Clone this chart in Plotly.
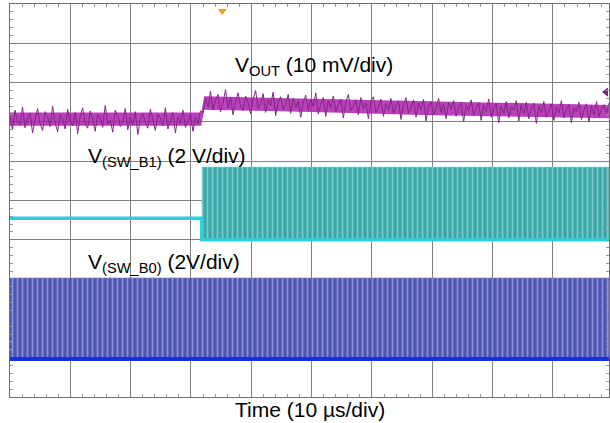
import numpy as np
import plotly.graph_objects as go

# scope screen: 10 x 10 divisions, x in divisions of 10 us, y in divisions
x_span = 9.93

# V_OUT (10 mV/div) samples in divisions from the bottom
vout = [7.15, 6.80, 7.30, 7.00, 6.92, 7.38, 6.85, 7.10, 7.22, 6.72, 7.05, 7.34, 6.95, 6.78, 7.26, 7.12, 6.88, 7.40, 6.98, 6.75,
        7.18, 7.08, 6.82, 7.32, 7.02, 6.90, 7.24, 6.70, 7.14, 7.36, 6.96, 6.84, 7.28, 7.06, 6.76, 7.20, 7.10, 6.86, 7.42, 6.94,
        7.04, 6.74, 7.30, 7.16, 6.88, 7.00, 7.34, 6.80, 7.12, 6.92, 7.26, 6.68, 7.08, 7.22, 6.98, 6.84, 7.32, 7.04, 6.78, 7.18,
        7.10, 6.90, 7.36, 6.82, 7.02, 7.24, 6.72, 7.14, 6.96, 7.30, 6.86, 7.06, 7.20, 6.76, 7.12, 6.94, 7.28,
        7.22, 7.60, 7.38, 7.78, 7.30, 7.55, 7.70, 7.25, 7.48, 7.82, 7.35, 7.62, 7.18, 7.52, 7.74, 7.40, 7.28, 7.66, 7.50, 7.20,
        7.58, 7.80, 7.34, 7.46, 7.72, 7.24, 7.56, 7.42, 7.76, 7.16, 7.50, 7.64, 7.32, 7.44, 7.70, 7.22, 7.60, 7.36, 7.52, 7.12,
        7.48, 7.68, 7.30, 7.56, 7.40, 7.74, 7.20, 7.46, 7.62, 7.14, 7.54, 7.36, 7.66, 7.26, 7.44, 7.58, 7.10, 7.50, 7.70, 7.28,
        7.40, 7.56, 7.18, 7.62, 7.34, 7.48, 7.08, 7.52, 7.64, 7.24, 7.38, 7.58, 7.14, 7.46, 7.30, 7.60, 7.20, 7.42, 7.54, 7.06,
        7.44, 7.62, 7.22, 7.36, 7.56, 7.12, 7.48, 7.30, 7.58, 7.02, 7.40, 7.52, 7.18, 7.34, 7.60, 7.24, 7.46, 7.08, 7.50, 7.32,
        7.54, 7.14, 7.38, 7.48, 7.00, 7.44, 7.28, 7.56, 7.16, 7.36, 7.50, 7.04, 7.42, 7.26, 7.58, 7.12, 7.34, 7.46, 6.98, 7.40,
        7.22, 7.52, 7.10, 7.38, 7.30, 7.54, 7.02, 7.44, 7.20, 7.50, 7.08, 7.32, 7.48, 6.96, 7.40, 7.24, 7.52, 7.12, 7.30, 7.46,
        7.04, 7.38, 7.22, 7.54, 7.10, 7.34, 7.44, 6.98, 7.36, 7.26, 7.50, 7.06, 7.30, 7.46, 7.00, 7.42, 7.18, 7.52, 7.14, 7.32,
        7.44, 7.20, 7.48]
vout_env_t = [0, 3.17, 3.22, 5.0, 7.0, x_span]
vout_env_hi = [7.24, 7.24, 7.65, 7.59, 7.51, 7.43]
vout_env_lo = [6.90, 6.90, 7.31, 7.25, 7.17, 7.09]

# V(SW_B1) (2 V/div): idle level, then switching between low and high
sw_b1_start = 3.18
sw_b1_idle = 4.55
sw_b1_low = 4.00
sw_b1_high = 5.85

# V(SW_B0) (2 V/div): switching over the whole record
sw_b0_low = 0.97
sw_b0_high = 3.03

# trigger marker (top) and channel-1 ground marker (right edge)
trig_t = [3.52]
trig_y = [9.82]
gnd_t = [9.88]
gnd_y = [7.76]

vout_t = np.linspace(0, x_span, len(vout))

fig = go.Figure()

# V(SW_B0)
fig.add_trace(go.Scatter(
    x=[0, x_span, x_span, 0], y=[sw_b0_high, sw_b0_high, sw_b0_low, sw_b0_low],
    fill='toself', mode='lines', line=dict(width=0.6, color='#7f86c8'),
    fillcolor='#5058b0',
    fillpattern=dict(shape='|', size=5, solidity=0.35, fgcolor='#c3c7ee', bgcolor='#4d56b2'),
    hoverinfo='skip'))
fig.add_trace(go.Scatter(x=[0, x_span], y=[sw_b0_low, sw_b0_low], mode='lines',
                         line=dict(color='#1433d6', width=4), hoverinfo='skip'))

# V(SW_B1)
fig.add_trace(go.Scatter(
    x=[sw_b1_start, x_span, x_span, sw_b1_start],
    y=[sw_b1_high, sw_b1_high, sw_b1_low, sw_b1_low],
    fill='toself', mode='lines', line=dict(width=0.6, color='#7fd3d3'),
    fillcolor='#3faaaa',
    fillpattern=dict(shape='|', size=5, solidity=0.35, fgcolor='#b4ecec', bgcolor='#3aa6a8'),
    hoverinfo='skip'))
fig.add_trace(go.Scatter(x=[0, sw_b1_start, sw_b1_start, x_span],
                         y=[sw_b1_idle, sw_b1_idle, sw_b1_low, sw_b1_low], mode='lines',
                         line=dict(color='#2bd0d6', width=3.5), hoverinfo='skip'))

# V_OUT
fig.add_trace(go.Scatter(x=vout_env_t + vout_env_t[::-1], y=vout_env_hi + vout_env_lo[::-1],
                         fill='toself', mode='lines', line=dict(width=0),
                         fillcolor='rgba(175,30,175,0.85)', hoverinfo='skip'))
fig.add_trace(go.Scatter(x=vout_t, y=vout, mode='lines',
                         line=dict(color='#7d2a80', width=1), hoverinfo='skip'))

fig.add_trace(go.Scatter(x=trig_t, y=trig_y, mode='markers', hoverinfo='skip', cliponaxis=False,
                         marker=dict(symbol='triangle-down', size=8, color='#e8a032')))
fig.add_trace(go.Scatter(x=gnd_t, y=gnd_y, mode='markers', hoverinfo='skip', cliponaxis=False,
                         marker=dict(symbol='triangle-left', size=8, color='#8a1a8a')))

label_font = dict(family='Liberation Sans, Arial', size=21, color='black')
fig.add_annotation(x=3.70, y=8.42, xanchor='left', yanchor='middle', showarrow=False,
                   text='V<sub>OUT</sub> (10 mV/div)', font=label_font)
fig.add_annotation(x=1.26, y=6.10, xanchor='left', yanchor='middle', showarrow=False,
                   text='V<sub>(SW_B1)</sub> (2 V/div)', font=label_font)
fig.add_annotation(x=1.26, y=3.41, xanchor='left', yanchor='middle', showarrow=False,
                   text='V<sub>(SW_B0)</sub> (2V/div)', font=label_font)
fig.add_annotation(x=0.5, y=-0.033, xref='paper', yref='paper', xanchor='center',
                   yanchor='middle', showarrow=False, text='Time (10 µs/div)', font=label_font)

axis_style = dict(showgrid=True, gridcolor='#808080', gridwidth=1, dtick=1,
                  showticklabels=False, zeroline=False, showline=True, linecolor='#6e6e6e',
                  linewidth=1, mirror='ticks', ticks='inside', ticklen=0, tickcolor='#8a8a8a',
                  minor=dict(ticks='inside', ticklen=3, dtick=0.2, tickcolor='#9a9a9a',
                             showgrid=False))
fig.update_xaxes(range=[0, x_span], **axis_style)
fig.update_yaxes(range=[0, 10], **axis_style)

fig.update_layout(width=610, height=423, showlegend=False,
                  margin=dict(l=10, r=1, t=4, b=26),
                  paper_bgcolor='white', plot_bgcolor='white')

fig.write_html("out.html", config={'displayModeBar': False},
               post_script="document.body.style.margin='0';")
